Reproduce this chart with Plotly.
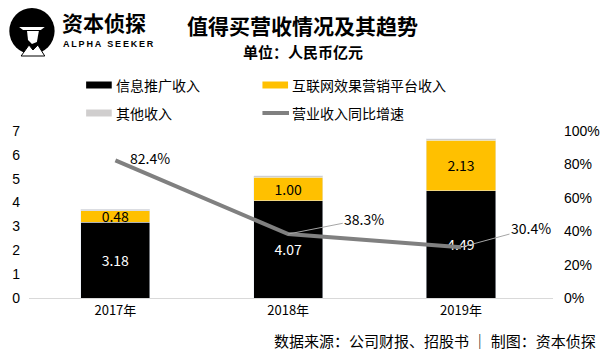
import plotly.graph_objects as go

years = ["2017年", "2018年", "2019年"]
info_promo = [3.18, 4.07, 4.49]
internet_mkt = [0.48, 1.00, 2.13]
other_rev = [0.05, 0.05, 0.05]
growth = [0.824, 0.383, 0.304]
growth_labels = ["82.4%", "38.3%", "30.4%"]

CJK = "Noto Sans CJK SC"
BLACK = "#000000"
YELLOW = "#FFC000"
GREY = "#D0CECE"
LINE = "#808080"

fig = go.Figure()
fig.add_trace(go.Bar(x=years, y=info_promo, name="信息推广收入", marker_color=BLACK,
                     text=[f"{v:.2f}" for v in info_promo], textposition="inside",
                     insidetextanchor="middle", textangle=0,
                     textfont=dict(color="white", size=14, family=CJK), width=0.4))
fig.add_trace(go.Bar(x=years, y=internet_mkt, name="互联网效果营销平台收入", marker_color=YELLOW,
                     text=[f"{v:.2f}" for v in internet_mkt], textposition="inside",
                     insidetextanchor="middle", textangle=0,
                     textfont=dict(color="black", size=14, family=CJK), width=0.4))
fig.add_trace(go.Bar(x=years, y=other_rev, name="其他收入", marker_color=GREY, width=0.4))
fig.add_trace(go.Scatter(x=years, y=growth, name="营业收入同比增速", mode="lines",
                         line=dict(color=LINE, width=4), yaxis="y2"))

# growth labels
offsets = [(35, -2, False), (76, -15, True), (70, -19, True)]
for yr, g, lab, (dx, dy, arrow) in zip(years, growth, growth_labels, offsets):
    if arrow:
        fig.add_annotation(x=yr, y=g, yref="y2", text=lab, showarrow=True, ax=dx, ay=dy,
                           arrowhead=0, arrowwidth=1, arrowcolor="#A6A6A6", standoff=0,
                           font=dict(size=14, family=CJK, color="black"))
    else:
        fig.add_annotation(x=yr, y=g, yref="y2", text=lab, showarrow=False,
                           xshift=dx, yshift=-dy,
                           font=dict(size=14, family=CJK, color="black"))

W, H = 612, 354
PX0, PW, PY0, PH = 28, 532, 298, 167


def px(x):
    return (x - PX0) / PW


def py(y):
    return (PY0 - y) / PH


def text(xp, yp, s, size, xanchor="center", family=CJK):
    fig.add_annotation(xref="paper", yref="paper", x=px(xp), y=py(yp), text=s,
                       showarrow=False, xanchor=xanchor, yanchor="middle",
                       font=dict(size=size, family=family, color="black"))


# custom legend
legend_items = [
    (86, 85, "rect", BLACK, "信息推广收入"),
    (265, 85, "rect", YELLOW, "互联网效果营销平台收入"),
    (86, 113, "rect", GREY, "其他收入"),
    (265, 113, "line", LINE, "营业收入同比增速"),
]
for x0, yc, kind, col, lab in legend_items:
    if kind == "rect":
        fig.add_shape(type="rect", xref="paper", yref="paper",
                      x0=px(x0), x1=px(x0 + 26), y0=py(yc + 3.5), y1=py(yc - 3.5),
                      fillcolor=col, line_width=0)
    else:
        fig.add_shape(type="line", xref="paper", yref="paper",
                      x0=px(x0), x1=px(x0 + 27), y0=py(yc), y1=py(yc),
                      line=dict(color=col, width=4))
    text(x0 + 28, yc, lab, 14, xanchor="left")

# title / subtitle
text(306, 25, "<b>值得买营收情况及其趋势</b>", 21)
text(306, 52, "<b>单位：人民币亿元</b>", 15)

# logo
fig.add_shape(type="circle", xref="paper", yref="paper",
              x0=px(8), x1=px(54), y0=py(54), y1=py(8),
              fillcolor="black", line_width=0)
fig.add_shape(type="path", xref="paper", yref="paper",
              path=f"M {px(18)},{py(27)} L {px(44)},{py(27)} L {px(40)},{py(30)} L {px(22)},{py(30)} Z",
              fillcolor="white", line_width=0)
fig.add_shape(type="path", xref="paper", yref="paper",
              path=(f"M {px(26)},{py(31)} L {px(38)},{py(31)} L {px(36)},{py(42)} "
                    f"L {px(31)},{py(44)} L {px(27)},{py(40)} Z"),
              fillcolor="white", line_width=0)
fig.add_shape(type="path", xref="paper", yref="paper",
              path=(f"M {px(20)},{py(56)} L {px(28)},{py(45)} L {px(32)},{py(50)} "
                    f"L {px(37)},{py(45)} L {px(44)},{py(56)} Z"),
              fillcolor="white", line=dict(color="black", width=1))
text(59, 22, "<b>资本侦探</b>", 21, xanchor="left")
text(60, 44, "<b>A\u2009L\u2009P\u2009H\u2009A\u2009 \u2009S\u2009E\u2009E\u2009K\u2009E\u2009R</b>", 9,
     xanchor="left", family="Liberation Sans")

# footer
text(606, 340, "数据来源：公司财报、招股书 ｜ 制图：资本侦探", 15, xanchor="right")

fig.update_layout(
    width=W, height=H, barmode="stack", showlegend=False,
    margin=dict(l=28, r=52, t=131, b=56),
    paper_bgcolor="white", plot_bgcolor="white",
    xaxis=dict(showgrid=False, showline=True, linecolor="#D9D9D9", linewidth=1,
               tickfont=dict(size=13, family=CJK, color="black"), ticks=""),
    yaxis=dict(range=[0, 7], dtick=1, showgrid=False, zeroline=False, ticks="",
               ticklabelstandoff=8,
               tickfont=dict(size=14, family="Liberation Sans", color="black")),
    yaxis2=dict(range=[0, 1], dtick=0.2, tickformat=".0%", overlaying="y", side="right",
                showgrid=False, zeroline=False, ticks="", ticklabelstandoff=10,
                tickfont=dict(size=14, family="Liberation Sans", color="black")),
    uniformtext=dict(mode="show", minsize=14),
)
fig.write_html("out.html")
